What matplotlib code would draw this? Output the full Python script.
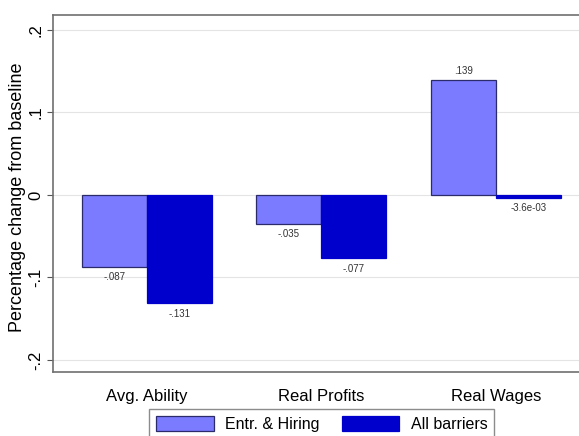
"""Bar chart: percentage change from baseline under two barrier scenarios."""

import matplotlib

matplotlib.use("Agg")
import matplotlib.pyplot as plt  # noqa: E402
import numpy as np  # noqa: E402

CATEGORIES = ["Avg. Ability", "Real Profits", "Real Wages"]
ENTR_HIRING = [-0.087, -0.035, 0.139]
ALL_BARRIERS = [-0.131, -0.077, -0.0036]
ENTR_LABELS = ["-.087", "-.035", ".139"]
ALL_LABELS = ["-.131", "-.077", "-3.6e-03"]
YTICKS = [-0.2, -0.1, 0.0, 0.1, 0.2]
YTICK_LABELS = ["-.2", "-.1", "0", ".1", ".2"]

LIGHT = "#7b7bff"
DARK = "#0000cc"
EDGE = "#2b2b6b"

plt.rcParams["font.family"] = ["Liberation Sans", "DejaVu Sans"]


def run() -> None:
    fig = plt.figure(figsize=(5.79, 4.36), dpi=100)
    ax = fig.add_axes([0.0915, 0.1468, 0.9085, 0.8188])

    x = np.arange(len(CATEGORIES))
    w = 0.3725
    b1 = ax.bar(x - w / 2, ENTR_HIRING, w, color=LIGHT, edgecolor=EDGE,
                linewidth=0.9, label="Entr. & Hiring", zorder=3)
    b2 = ax.bar(x + w / 2, ALL_BARRIERS, w, color=DARK, edgecolor=DARK,
                linewidth=0.9, label="All barriers", zorder=3)

    for bars, labels in ((b1, ENTR_LABELS), (b2, ALL_LABELS)):
        for rect, lab in zip(bars, labels):
            h = rect.get_height()
            xc = rect.get_x() + rect.get_width() / 2
            if h >= 0:
                ax.annotate(lab, (xc, h), xytext=(0, 3), textcoords="offset points",
                            ha="center", va="bottom", fontsize=7, color="#333333")
            else:
                ax.annotate(lab, (xc, h), xytext=(0, -4), textcoords="offset points",
                            ha="center", va="top", fontsize=7, color="#333333")

    ax.set_xlim(-0.539, 2.476)
    ax.set_ylim(-0.2145, 0.218)
    ax.set_yticks(YTICKS)
    ax.set_yticklabels(YTICK_LABELS, rotation=90, va="center", fontsize=12)
    ax.set_xticks(x)
    ax.set_xticklabels(CATEGORIES, fontsize=12)
    ax.tick_params(axis="x", length=0, pad=12)
    ax.tick_params(axis="y", length=4, color="#555555", pad=3)
    ax.set_ylabel("Percentage change from baseline", fontsize=13)
    ax.yaxis.set_label_coords(-0.052, 0.49)

    ax.grid(axis="y", color="#e4e4e4", linewidth=0.8, zorder=0)
    ax.spines["right"].set_visible(False)
    for s in ("left", "top", "bottom"):
        ax.spines[s].set_color("#707070")
        ax.spines[s].set_linewidth(1.2)

    leg = ax.legend(loc="upper center", bbox_to_anchor=(0.511, -0.08), ncol=2,
                    frameon=True, fancybox=False, fontsize=11.5, handlelength=3.6,
                    handleheight=1.1, columnspacing=1.4, handletextpad=0.7,
                    borderpad=0.45)
    leg.get_frame().set_edgecolor("#707070")
    leg.get_frame().set_linewidth(1.0)

    fig.savefig("out.png", dpi=100)
    plt.close(fig)


if __name__ == "__main__":
    run()
